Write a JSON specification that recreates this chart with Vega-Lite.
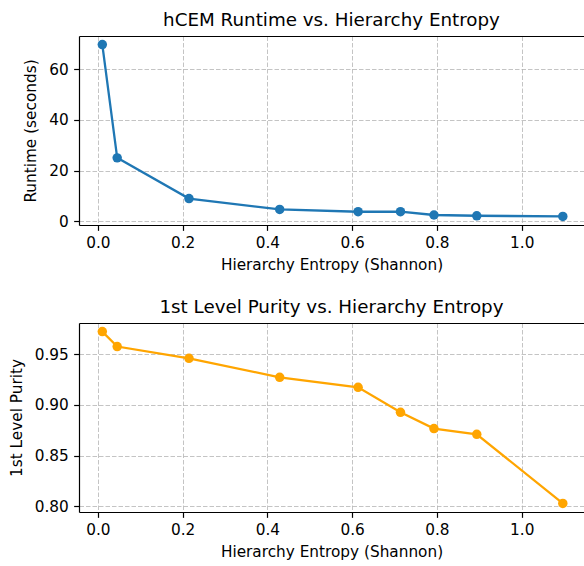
{
  "$schema": "https://vega.github.io/schema/vega-lite/v6.json",
  "padding": {"left": 9, "top": 11, "right": 0, "bottom": 0},
  "spacing": 25,
  "config": {
    "font": "DejaVu Sans",
    "view": {"stroke": null},
    "axis": {
      "labelFont": "DejaVu Sans", "labelFontSize": 15.3, "labelColor": "#000000",
      "titleFont": "DejaVu Sans", "titleFontSize": 15.3, "titleFontWeight": "normal", "titleColor": "#000000",
      "domainColor": "#000000", "domainWidth": 1.2,
      "tickColor": "#000000", "tickWidth": 1.2, "tickSize": 5.35, "labelPadding": 5.35,
      "gridColor": "#b0b0b0", "gridOpacity": 0.75, "gridWidth": 1.0, "gridDash": [4.5, 2],
      "titlePadding": 6
    },
    "axisY": {"titlePadding": 10},
    "title": {"font": "DejaVu Sans", "fontSize": 18.3, "fontWeight": "normal", "color": "#000000", "offset": 5.7, "baseline": "alphabetic"}
  },
  "datasets": {
    "runtime": [
      {"entropy": 0.0105, "runtime": 69.8},
      {"entropy": 0.0456, "runtime": 25.0},
      {"entropy": 0.215, "runtime": 8.9},
      {"entropy": 0.429, "runtime": 4.6},
      {"entropy": 0.614, "runtime": 3.7},
      {"entropy": 0.714, "runtime": 3.7},
      {"entropy": 0.793, "runtime": 2.4},
      {"entropy": 0.894, "runtime": 2.1},
      {"entropy": 1.097, "runtime": 1.85}
    ],
    "purity": [
      {"entropy": 0.0105, "purity": 0.9726},
      {"entropy": 0.0456, "purity": 0.9578},
      {"entropy": 0.215, "purity": 0.9462},
      {"entropy": 0.429, "purity": 0.9274},
      {"entropy": 0.614, "purity": 0.9175},
      {"entropy": 0.714, "purity": 0.8927},
      {"entropy": 0.793, "purity": 0.8766},
      {"entropy": 0.894, "purity": 0.8710},
      {"entropy": 1.097, "purity": 0.8026}
    ]
  },
  "vconcat": [
    {
      "title": "hCEM Runtime vs. Hierarchy Entropy",
      "width": 505,
      "height": 189,
      "data": {"name": "runtime"},
      "layer": [
        {
          "mark": {"type": "line", "color": "#1f77b4", "strokeWidth": 2.3},
          "encoding": {
            "x": {"field": "entropy", "type": "quantitative",
              "scale": {"domain": [-0.0445, 1.147], "nice": false, "zero": false},
              "axis": {"values": [0, 0.2, 0.4, 0.6, 0.8, 1.0], "format": ".1f", "title": "Hierarchy Entropy (Shannon)"}},
            "y": {"field": "runtime", "type": "quantitative",
              "scale": {"domain": [-1.55, 73.2], "nice": false, "zero": false},
              "axis": {"values": [0, 20, 40, 60], "format": "d", "title": "Runtime (seconds)"}}
          }
        },
        {
          "mark": {"type": "point", "filled": true, "color": "#1f77b4", "size": 90, "opacity": 1},
          "encoding": {
            "x": {"field": "entropy", "type": "quantitative",
              "axis": {"orient": "top", "labels": false, "ticks": false, "grid": false, "title": null, "domain": true}},
            "y": {"field": "runtime", "type": "quantitative"}
          }
        }
      ],
      "resolve": {"axis": {"x": "independent"}}
    },
    {
      "title": "1st Level Purity vs. Hierarchy Entropy",
      "width": 505,
      "height": 189,
      "data": {"name": "purity"},
      "layer": [
        {
          "mark": {"type": "line", "color": "#ffa500", "strokeWidth": 2.3},
          "encoding": {
            "x": {"field": "entropy", "type": "quantitative",
              "scale": {"domain": [-0.0445, 1.147], "nice": false, "zero": false},
              "axis": {"values": [0, 0.2, 0.4, 0.6, 0.8, 1.0], "format": ".1f", "title": "Hierarchy Entropy (Shannon)"}},
            "y": {"field": "purity", "type": "quantitative",
              "scale": {"domain": [0.7941, 0.9811], "nice": false, "zero": false},
              "axis": {"values": [0.80, 0.85, 0.90, 0.95], "format": ".2f", "title": "1st Level Purity"}}
          }
        },
        {
          "mark": {"type": "point", "filled": true, "color": "#ffa500", "size": 90, "opacity": 1},
          "encoding": {
            "x": {"field": "entropy", "type": "quantitative",
              "axis": {"orient": "top", "labels": false, "ticks": false, "grid": false, "title": null, "domain": true}},
            "y": {"field": "purity", "type": "quantitative"}
          }
        }
      ],
      "resolve": {"axis": {"x": "independent"}}
    }
  ]
}
